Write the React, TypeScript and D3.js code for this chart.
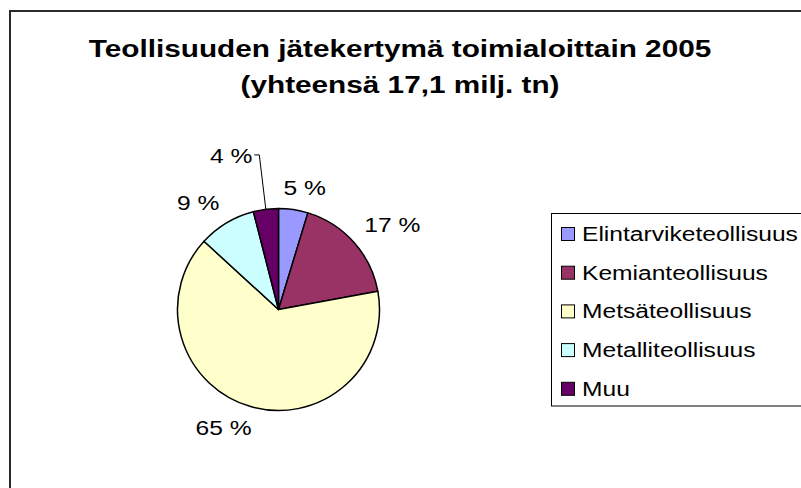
import React, { useMemo } from "react";
import * as d3 from "d3";

const CATEGORIES = [
  "Elintarviketeollisuus",
  "Kemianteollisuus",
  "Metsäteollisuus",
  "Metalliteollisuus",
  "Muu",
];
const VALUES = [4.7, 17.4, 64.7, 9.2, 4.0];
const COLORS = ["#9999FF", "#993366", "#FFFFCC", "#CCFFFF", "#660066"];
const TITLE_LINES = [
  "Teollisuuden jätekertymä toimialoittain 2005",
  "(yhteensä 17,1 milj. tn)",
];

const W = 801;
const H = 488;
const FONT = "'Liberation Sans', Arial, sans-serif";
const TEXT_SIZE = 20;
const TEXT_SX = 1.23;
const TITLE_SIZE = 24;
const TITLE_SX = 1.24;

function measure(text: string, font: string): number {
  const c = document.createElement("canvas");
  const ctx = c.getContext("2d");
  if (!ctx) return text.length * 9;
  ctx.font = font;
  return ctx.measureText(text).width;
}

const clamp = (v: number) => Math.max(-1, Math.min(1, v));

export default function App() {
  const cx = 278.5;
  const cy = 309.5;
  const r = 101;
  const labelR = 115;

  const arcs = useMemo(
    () =>
      d3
        .pie<number>()
        .sort(null)
        .startAngle(0)
        .endAngle(2 * Math.PI)(VALUES),
    []
  );
  const arcGen = d3.arc<d3.PieArcDatum<number>>().innerRadius(0).outerRadius(r);

  const halfH = 8;
  const labels = arcs.map((a, i) => {
    const text = `${Math.round(a.data)} %`;
    const w = measure(text, `${TEXT_SIZE}px ${FONT}`) * TEXT_SX;
    const mid = (a.startAngle + a.endAngle) / 2;
    const s = Math.sin(mid);
    const c = -Math.cos(mid);
    let x = s * labelR + clamp(s * 3) * (w / 2);
    let y = c * labelR + clamp(c * 3) * halfH;
    let leader: string | null = null;
    if (i === 4) {
      // label dragged away from the slice in the original, with a leader line
      x += -25;
      y += -31.5;
      const ex = Math.sin(mid) * r;
      const ey = -Math.cos(mid) * r;
      const sx0 = x + w / 2 + 2;
      const sy0 = y - 1;
      leader = `M${sx0},${sy0}H${sx0 + 5}L${ex},${ey}`;
    }
    return { text, x, y, leader };
  });

  const legendX = 551.5;
  const legendY = 213.5;
  const legendH = 192.5;
  const rowStart = 234;
  const rowStep = 38.7;

  return (
    <svg
      width={W}
      height={H}
      style={{ position: "absolute", left: 0, top: 0, display: "block", background: "#fff" }}
      fontFamily={FONT}
    >
      <rect x={0} y={0} width={W} height={H} fill="#fff" />
      <rect x={10} y={11} width={W + 20} height={H + 20} fill="none" stroke="#2a2a2a" strokeWidth={2} />

      {TITLE_LINES.map((t, i) => (
        <text
          key={i}
          transform={`translate(400,${57 + i * 36}) scale(${TITLE_SX},1)`}
          textAnchor="middle"
          fontSize={TITLE_SIZE}
          fontWeight="bold"
          fill="#000"
        >
          {t}
        </text>
      ))}

      <g transform={`translate(${cx},${cy})`}>
        {arcs.map((a, i) => (
          <path key={i} d={arcGen(a) || ""} fill={COLORS[i]} stroke="#000" strokeWidth={1.5} strokeLinejoin="round" />
        ))}
        {labels.map((l, i) => (
          <g key={i}>
            {l.leader && <path d={l.leader} fill="none" stroke="#000" strokeWidth={1} />}
            <text
              transform={`translate(${l.x},${l.y + 7}) scale(${TEXT_SX},1)`}
              textAnchor="middle"
              fontSize={TEXT_SIZE}
              fill="#000"
            >
              {l.text}
            </text>
          </g>
        ))}
      </g>

      <rect x={legendX} y={legendY} width={W} height={legendH} fill="#fff" stroke="#000" strokeWidth={1} />
      {CATEGORIES.map((c, i) => {
        const yc = rowStart + i * rowStep;
        return (
          <g key={c}>
            <rect x={561.5} y={yc - 6.5} width={13} height={13} fill={COLORS[i]} stroke="#000" strokeWidth={1} />
            <text transform={`translate(582,${yc + 7}) scale(${TEXT_SX},1)`} fontSize={TEXT_SIZE} fill="#000">
              {c}
            </text>
          </g>
        );
      })}
    </svg>
  );
}
